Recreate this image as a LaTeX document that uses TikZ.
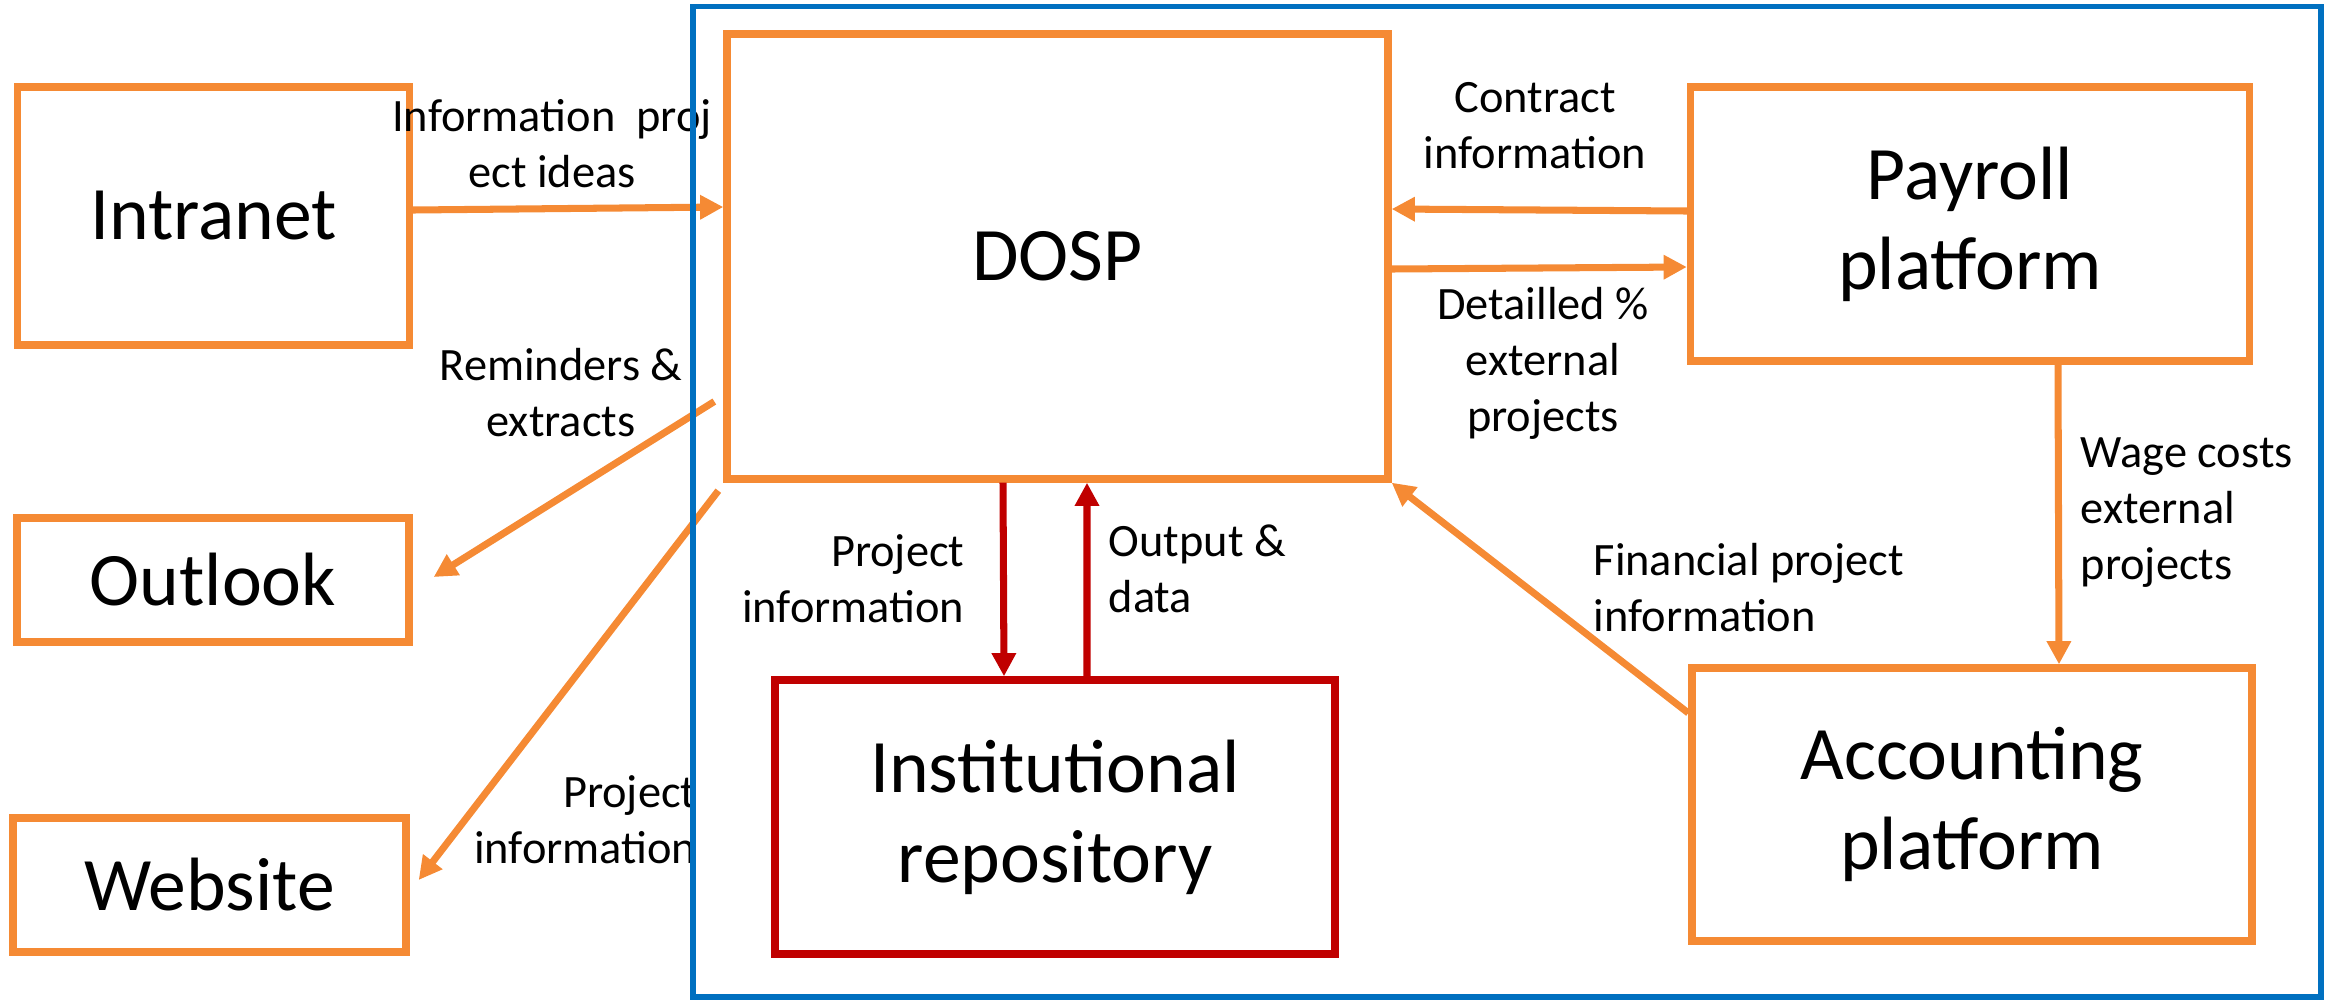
\documentclass[tikz,border=0pt]{standalone}
\usepackage{fontspec}
\setmainfont{Carlito}
\usetikzlibrary{calc,arrows.meta}

\definecolor{boxorange}{HTML}{F58A34}
\definecolor{repored}{HTML}{C00000}
\definecolor{frameblue}{HTML}{0070C0}

\begin{document}
\begin{tikzpicture}[x=0.1mm,y=-0.1mm,>={Triangle[length=6.6pt,width=6.6pt]}
        ,system/.style = {draw=boxorange,line width=2.1pt,rectangle,align=center,font=\fontsize{21.5}{25.6}\selectfont}
        ,store/.style = {system,draw=repored}
        ,flow/.style = {->,draw=boxorange,line width=2pt}
        ,feed/.style = {flow,draw=repored}
        ,flowtext/.style = {inner sep=0pt,font=\fontsize{13.2}{15.9}\selectfont}
      ]
      \useasboundingbox (0,0) rectangle (2338,1000);

      % systems
      \node[system,minimum width=39.2mm,minimum height=25.8mm] (intranet) at (213.5,216) {Intranet};
      \node[system,minimum width=39.2mm,minimum height=12.4mm] (outlook) at (213,580) {Outlook};
      \node[system,minimum width=39.3mm,minimum height=13.4mm] (website) at (209.5,885) {Website};
      \node[system,minimum width=66.1mm,minimum height=44.5mm] (dosp) at (1057.5,256.5) {DOSP};
      \node[system,minimum width=55.9mm,minimum height=27.4mm] (payroll) at (1970,224) {Payroll\\platform};
      \node[system,minimum width=56mm,minimum height=27.3mm] (accounting) at (1972,804.5) {Accounting\\platform};
      \node[store,minimum width=56mm,minimum height=27.4mm] (repo) at (1055,817) {Institutional\\repository};

      % flows
      \draw[flow] ($(intranet.east)+(0,-6)$) -- ($(dosp.west)+(0,-49.5)$);
      \draw[flow] ($(dosp.west)+(-9,145)$) -- ($(outlook.east)+(21,-3)$);
      \draw[flow] ($(dosp.south west)+(-5,8)$) -- ($(website.east)+(9,-5)$);
      \draw[flow] ($(payroll.west)+(0,-13)$) -- ($(dosp.east)+(0,-47.5)$);
      \draw[flow] ($(dosp.east)+(0,12.5)$) -- ($(payroll.west)+(0,43)$);
      \draw[flow] ($(payroll.south)+(88,0)$) -- ($(accounting.north)+(87,0)$);
      \draw[flow] ($(accounting.west)+(0,-91.5)$) -- (dosp.south east);
      \draw[feed] ($(dosp.south)+(-54.5,0)$) -- ($(repo.north)+(-51,0)$);
      \draw[feed] ($(repo.north)+(32,0)$) -- ($(dosp.south)+(29.5,0)$);

      % flow labels
      \node[flowtext,align=center,anchor=north] (tinfo) at (552,99) {Information\ \ proj\\ect ideas};
      \node[flowtext,align=center,anchor=north] (tremind) at (561,348) {Reminders \&\\extracts};
      \node[flowtext,align=right,anchor=north east] (tweb) at (697,775) {Project\\information};
      \node[flowtext,align=center,anchor=north] (tcontract) at (1535,82) {Contract\\information};
      \node[flowtext,align=center,anchor=north] (tdetail) at (1543,287) {Detailled \%\\external\\projects};
      \node[flowtext,align=left,anchor=north west] (twage) at (2080,437) {Wage costs\\external\\projects};
      \node[flowtext,align=left,anchor=north west] (tfin) at (1593,543) {Financial project\\information};
      \node[flowtext,align=right,anchor=north east] (tproj) at (965,534) {Project\\information};
      \node[flowtext,align=left,anchor=north west] (toutput) at (1108,524) {Output \&\\data};

      % frame
      \draw[frameblue,line width=1.7pt] (693,6.5) rectangle (2321,997);
    \end{tikzpicture}
\end{document}
